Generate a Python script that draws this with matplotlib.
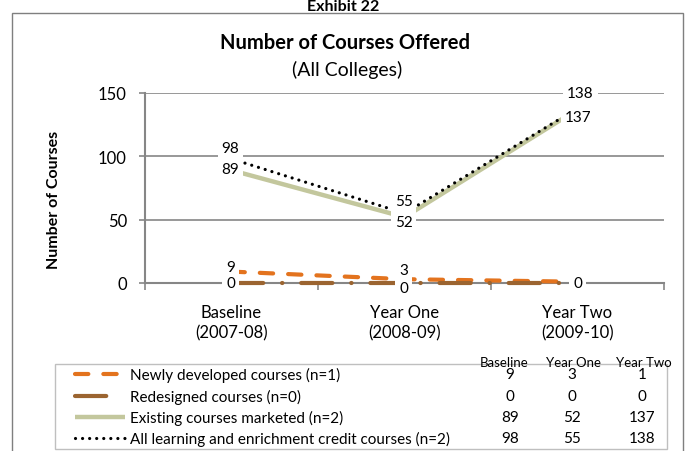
import matplotlib
matplotlib.use("Agg")
import matplotlib.pyplot as plt
from matplotlib.lines import Line2D
from matplotlib.patches import Rectangle

plt.rcParams['font.family'] = ['Lato', 'DejaVu Sans']

# ---- data ----
categories = ["Baseline\n(2007-08)", "Year One\n(2008-09)", "Year Two\n(2009-10)"]
table_header = ["Baseline", "Year One", "Year Two"]
series_names = ["Newly developed courses (n=1)", "Redesigned courses (n=0)",
                "Existing courses marketed (n=2)",
                "All learning and enrichment credit courses (n=2)"]
newly = [9, 3, 1]
redesigned = [0, 0, 0]
existing = [89, 52, 137]
all_courses = [98, 55, 138]

W, H = 689, 452
fig = plt.figure(figsize=(W / 100, H / 100), dpi=100)


def fx(x):
    return x / W


def fy(y):
    return 1 - y / H


# outer frame
fig.patches.append(Rectangle((fx(12), fy(452 + 5)), fx(683) - fx(12), fy(14) - fy(457),
                             transform=fig.transFigure, fill=False, ec='#7f7f7f', lw=1.0))

fig.text(fx(343), fy(7), "Exhibit 22", ha='center', va='center', fontsize=11.5, fontweight='bold')
fig.text(fx(345), fy(43), "Number of Courses Offered", ha='center', va='center',
         fontsize=14.5, fontweight='bold')
fig.text(fx(347), fy(70), "(All Colleges)", ha='center', va='center', fontsize=14)

ax = fig.add_axes([fx(145), fy(284), fx(664) - fx(145), fy(94) - fy(284)])
ax.set_xlim(-0.5, 2.5)
ax.set_ylim(0, 150)
ax.set_yticks([0, 50, 100, 150])
ax.tick_params(axis='y', length=4, width=1.2, color='#868686', labelsize=12, pad=9)
ax.set_xticks([-0.5, 0.5, 1.5, 2.5])
ax.set_xticklabels([])
ax.tick_params(axis='x', which='major', length=5, width=1.2, color='#868686')
ax.set_xticks([0, 1, 2], minor=True)
ax.set_xticklabels(categories, minor=True, fontsize=12, linespacing=1.35)
ax.tick_params(axis='x', which='minor', length=0, pad=15)
ax.grid(axis='y', color='#868686', lw=1.2)
ax.set_axisbelow(True)
for s in ['top', 'right']:
    ax.spines[s].set_visible(False)
for s in ['left', 'bottom']:
    ax.spines[s].set_color('#868686')
    ax.spines[s].set_linewidth(1.5)
ax.set_ylabel("Number of Courses", fontsize=11.5, fontweight='bold')
ax.yaxis.set_label_coords(-0.162, 0.44)

x = [0, 1, 2]
c_new, c_red, c_ex, c_all = '#E3731E', '#9B6430', '#C3C79D', 'black'
st_new = dict(color=c_new, lw=3, dashes=(3.2, 3.6), dash_capstyle='round')
st_red = dict(color=c_red, lw=3, dashes=(7.5, 4.5, 0.1, 4.5), dash_capstyle='round')
st_ex = dict(color=c_ex, lw=3.2, solid_capstyle='butt')
st_all = dict(color=c_all, lw=2.3, dashes=(0.01, 2.2), dash_capstyle='round')

ax.plot(x, newly, zorder=3, clip_on=False, **st_new)
ax.plot(x, redesigned, zorder=3.5, clip_on=False, **st_red)
ax.plot(x, existing, zorder=4, clip_on=False, **st_ex)
ax.plot(x, all_courses, zorder=5, clip_on=False, **st_all)


def lab(xi, val, dx, dy):
    ax.annotate(str(val), (xi, val), xytext=(dx, dy), textcoords='offset pixels',
                ha='center', va='center', fontsize=11, zorder=10, annotation_clip=False,
                bbox=dict(boxstyle='square,pad=0.25', fc='white', ec='none'))


lab(0, all_courses[0], -1, 11)
lab(0, existing[0], -1, 1)
lab(0, newly[0], -1, 5)
lab(0, redesigned[0], -1, 0)
lab(1, all_courses[1], -1, 12)
lab(1, existing[1], -1, -5)
lab(1, newly[1], -1, 9)
lab(1, redesigned[1], -1, -5)
lab(2, all_courses[2], 3, 15)
lab(2, existing[2], 1, -8)
lab(2, redesigned[2], 0, 0)

# legend / data table
fig.patches.append(Rectangle((fx(55), fy(450)), fx(667) - fx(55), fy(365) - fy(450),
                             transform=fig.transFigure, fill=False, ec='#bfbfbf', lw=1.0))
col_x = [510, 572, 642]
hdr_x = [504, 573, 644]
for hx, h in zip(hdr_x, table_header):
    fig.text(fx(hx), fy(363), h, ha='center', va='center', fontsize=9.5)
rows_y = [375, 397, 418, 439]
styles = [st_new, st_red, st_ex, st_all]
values = [newly, redesigned, existing, all_courses]
for ry, name, st, vals in zip(rows_y, series_names, styles, values):
    fig.lines.append(Line2D([fx(75), fx(125)], [fy(ry), fy(ry)], transform=fig.transFigure, **st))
    fig.text(fx(130), fy(ry), name, ha='left', va='center', fontsize=11)
    for cx, v in zip(col_x, vals):
        fig.text(fx(cx), fy(ry), str(v), ha='center', va='center', fontsize=11)

fig.savefig("out.png", dpi=100)
